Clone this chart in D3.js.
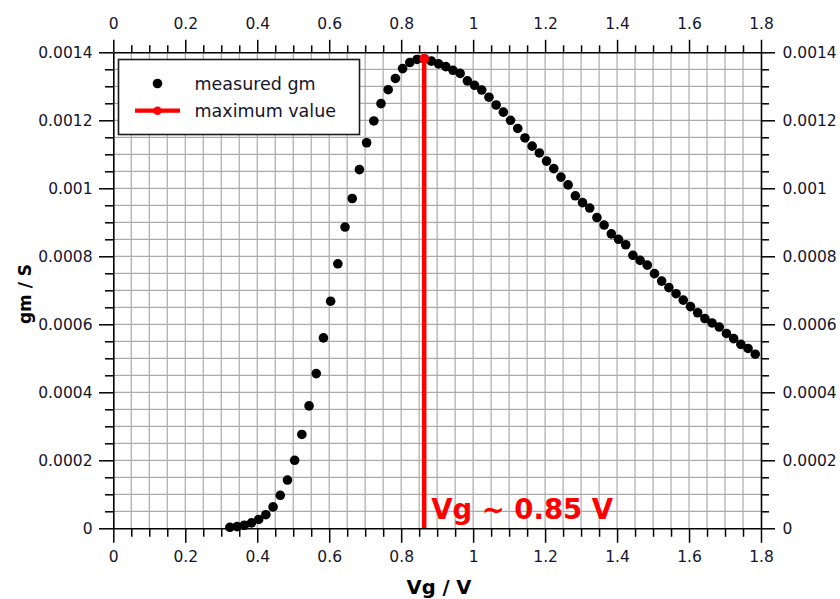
<!DOCTYPE html>
<html>
<head>
<meta charset="utf-8">
<script src="https://cdn.jsdelivr.net/npm/d3@7/dist/d3.min.js"></script>
<style>
  html, body { margin: 0; padding: 0; background: #fff; }
  svg { display: block; }
  text { font-family: "DejaVu Sans", Verdana, sans-serif; }
</style>
</head>
<body>
<svg id="chart" width="840" height="599"></svg>
<script>
// Gate voltage sweep (V) and measured transconductance gm (S)
const vg = [
  0.324, 0.344, 0.364, 0.384, 0.404, 0.424, 0.444, 0.464, 0.484, 0.504,
  0.524, 0.544, 0.564, 0.584, 0.604, 0.624, 0.644, 0.664, 0.684, 0.704,
  0.724, 0.744, 0.764, 0.784, 0.804, 0.824, 0.844, 0.864, 0.884, 0.904,
  0.924, 0.944, 0.964, 0.984, 1.004, 1.024, 1.044, 1.064, 1.084, 1.104,
  1.124, 1.144, 1.164, 1.184, 1.204, 1.224, 1.244, 1.264, 1.284, 1.304,
  1.324, 1.344, 1.364, 1.384, 1.404, 1.424, 1.444, 1.464, 1.484, 1.504,
  1.524, 1.544, 1.564, 1.584, 1.604, 1.624, 1.644, 1.664, 1.684, 1.704,
  1.724, 1.744, 1.764, 1.784
];
const gm = [
  0.000003, 0.000005, 0.000009, 0.000016, 0.000026, 0.000040, 0.000063, 0.000097, 0.000142, 0.000200,
  0.000276, 0.000360, 0.000455, 0.000560, 0.000668, 0.000778, 0.000886, 0.000970, 0.001055, 0.001134,
  0.001198, 0.001249, 0.001290, 0.001323, 0.001352, 0.001370, 0.001379, 0.001381, 0.001374, 0.001366,
  0.001358, 0.001347, 0.001338, 0.001316, 0.001303, 0.001289, 0.001268, 0.001245, 0.001224, 0.001200,
  0.001176, 0.001148, 0.001124, 0.001104, 0.001080, 0.001058, 0.001033, 0.001010, 0.000978, 0.000958,
  0.000942, 0.000914, 0.000892, 0.000866, 0.000850, 0.000834, 0.000803, 0.000788, 0.000774, 0.000749,
  0.000727, 0.000708, 0.000690, 0.000671, 0.000652, 0.000634, 0.000617, 0.000604, 0.000592, 0.000573,
  0.000558, 0.000541, 0.000529, 0.000512
];

// Axis ticks
const xTicks = [0, 0.2, 0.4, 0.6, 0.8, 1, 1.2, 1.4, 1.6, 1.8];
const xTickLabels = ["0", "0.2", "0.4", "0.6", "0.8", "1", "1.2", "1.4", "1.6", "1.8"];
const yTicks = [0, 0.0002, 0.0004, 0.0006, 0.0008, 0.001, 0.0012, 0.0014];
const yTickLabels = ["0", "0.0002", "0.0004", "0.0006", "0.0008", "0.001", "0.0012", "0.0014"];
const xMinorStep = 0.05;
const yMinorStep = 0.00005;

const legendLabels = ["measured gm", "maximum value"];
const annotation = "Vg ~ 0.85 V";
const xTitle = "Vg / V";
const yTitle = "gm / S";

const margin = { left: 113.3, top: 52.3, right: 840 - 761, bottom: 599 - 528.3 };
const W = 840, H = 599;
const iw = W - margin.left - margin.right;
const ih = H - margin.top - margin.bottom;

const x = d3.scaleLinear().domain([0, 1.8]).range([0, iw]);
const y = d3.scaleLinear().domain([0, 0.0014]).range([ih, 0]);

const svg = d3.select("#chart");
const g = svg.append("g").attr("transform", `translate(${margin.left},${margin.top})`);

// Minor grid
const xGrid = d3.range(0, 36).map(i => +(i * xMinorStep).toFixed(4)).filter(v => v > 0);
const yGrid = d3.range(0, 28).map(i => +(i * yMinorStep).toFixed(6)).filter(v => v > 0);
g.append("g").selectAll("line").data(xGrid).join("line")
  .attr("x1", d => x(d)).attr("x2", d => x(d))
  .attr("y1", 0).attr("y2", ih)
  .attr("stroke", "#ababab").attr("stroke-width", 1.2);
g.append("g").selectAll("line").data(yGrid).join("line")
  .attr("y1", d => y(d)).attr("y2", d => y(d))
  .attr("x1", 0).attr("x2", iw)
  .attr("stroke", "#ababab").attr("stroke-width", 1.2);

// Measured points
const pts = vg.map((v, i) => ({ v, g: gm[i] }));
g.append("g").selectAll("circle").data(pts).join("circle")
  .attr("cx", d => x(d.v)).attr("cy", d => y(d.g))
  .attr("r", 4.8).attr("fill", "#000");

// Maximum marker
const peak = pts.reduce((a, b) => (b.g > a.g ? b : a));
g.append("line")
  .attr("x1", x(peak.v)).attr("x2", x(peak.v))
  .attr("y1", y(0)).attr("y2", y(peak.g))
  .attr("stroke", "#ff0000").attr("stroke-width", 4.5);
g.append("circle")
  .attr("cx", x(peak.v)).attr("cy", y(peak.g))
  .attr("r", 4.8).attr("fill", "#ff0000");

g.append("text")
  .attr("x", x(peak.v) + 7).attr("y", y(0) - 9)
  .attr("fill", "#ff0000").attr("font-weight", "bold").attr("font-size", 27.5)
  .text(annotation);

// Axes
const fmtX = (d, i) => xTickLabels[i];
const fmtY = (d, i) => yTickLabels[i];
const xMinor = xGrid.filter(v => Math.abs(v / 0.2 - Math.round(v / 0.2)) > 1e-6);
const yMinor = yGrid.filter(v => Math.abs(v / 0.0002 - Math.round(v / 0.0002)) > 1e-6);

function styleAxis(sel) {
  sel.select(".domain").attr("stroke", "#000").attr("stroke-width", 1.6);
  sel.selectAll(".tick line").attr("stroke", "#000").attr("stroke-width", 1.5);
  sel.selectAll(".tick text").attr("fill", "#15152a").attr("font-size", 15.5)
    .style("font-family", "'DejaVu Sans', Verdana, sans-serif");
}

function minor(axisFn, scale, vals, len) {
  return axisFn(scale).tickValues(vals).tickSize(len).tickFormat("").tickSizeOuter(0);
}

// Bottom
g.append("g").attr("transform", `translate(0,${ih})`)
  .call(minor(d3.axisBottom, x, xMinor, 8.5))
  .call(s => s.select(".domain").remove())
  .call(styleAxis);
g.append("g").attr("transform", `translate(0,${ih})`)
  .call(d3.axisBottom(x).tickValues(xTicks).tickFormat(fmtX).tickSize(14.5).tickSizeOuter(0).tickPadding(8))
  .call(styleAxis);
// Top
g.append("g")
  .call(minor(d3.axisTop, x, xMinor, 7))
  .call(s => s.select(".domain").remove())
  .call(styleAxis);
g.append("g")
  .call(d3.axisTop(x).tickValues(xTicks).tickFormat(fmtX).tickSize(12.5).tickSizeOuter(0).tickPadding(11))
  .call(styleAxis);
// Left
g.append("g")
  .call(minor(d3.axisLeft, y, yMinor, 8.3))
  .call(s => s.select(".domain").remove())
  .call(styleAxis);
g.append("g")
  .call(d3.axisLeft(y).tickValues(yTicks).tickFormat(fmtY).tickSize(14.3).tickSizeOuter(0).tickPadding(6.5))
  .call(styleAxis);
// Right
g.append("g").attr("transform", `translate(${iw},0)`)
  .call(minor(d3.axisRight, y, yMinor, 8))
  .call(s => s.select(".domain").remove())
  .call(styleAxis);
g.append("g").attr("transform", `translate(${iw},0)`)
  .call(d3.axisRight(y).tickValues(yTicks).tickFormat(fmtY).tickSize(14).tickSizeOuter(0).tickPadding(7.5))
  .call(styleAxis);

// Axis titles
svg.append("text")
  .attr("x", 439).attr("y", 594)
  .attr("text-anchor", "middle").attr("font-weight", "bold").attr("font-size", 19.5)
  .attr("fill", "#000")
  .text(xTitle);
svg.append("text")
  .attr("transform", "translate(31,294) rotate(-90)")
  .attr("text-anchor", "middle").attr("font-weight", "bold").attr("font-size", 17)
  .attr("fill", "#000")
  .text(yTitle);

// Legend
const lg = svg.append("g");
lg.append("rect")
  .attr("x", 118.5).attr("y", 59.5).attr("width", 241).attr("height", 75)
  .attr("fill", "#fff").attr("stroke", "#1a1a1a").attr("stroke-width", 1.6);
lg.append("circle").attr("cx", 157.5).attr("cy", 83.5).attr("r", 4.8).attr("fill", "#000");
lg.append("line").attr("x1", 135).attr("x2", 180).attr("y1", 110.7).attr("y2", 110.7)
  .attr("stroke", "#ff0000").attr("stroke-width", 4.2);
lg.append("circle").attr("cx", 157.5).attr("cy", 110.7).attr("r", 4.3).attr("fill", "#ff0000");
lg.selectAll("text.lbl").data(legendLabels).join("text")
  .attr("class", "lbl")
  .attr("x", 194.5).attr("y", (d, i) => 89.5 + i * 27)
  .attr("font-size", 17.5).attr("fill", "#15152a")
  .text(d => d);
</script>
</body>
</html>
